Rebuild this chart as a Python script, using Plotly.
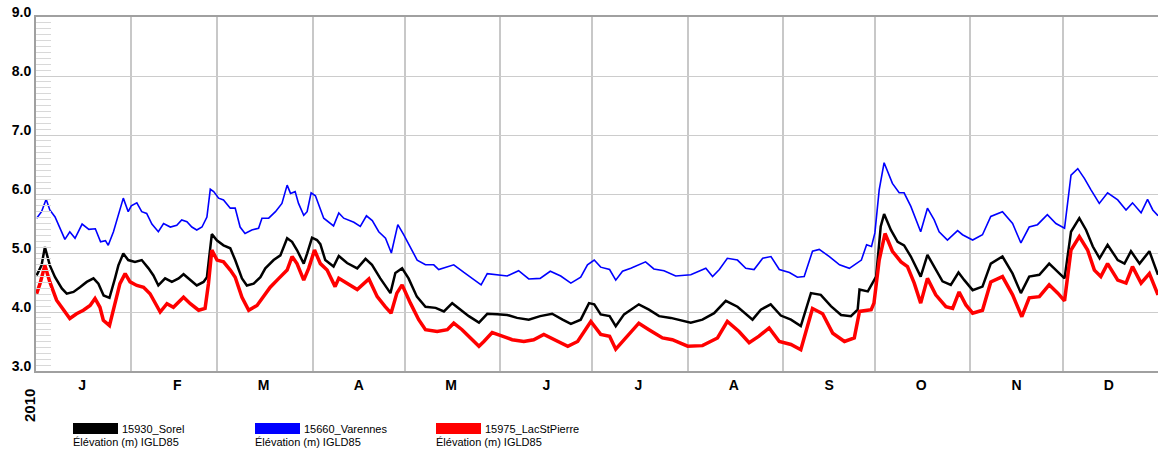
import plotly.graph_objects as go
import pandas as pd

# day offsets from 2010-01-01 and water levels (m, IGLD85)
sorel_days = [0.2, 1.8, 2.9, 4.5, 6.2, 8.4, 10, 12.2, 14.3, 16.5, 18.7, 20.3, 22, 23.9, 25.7, 26.8, 28.4, 30,
              32.2, 34.4, 36.6, 38.2, 39.8, 42, 44.2, 46.4, 48, 50.2, 52.3, 54.5, 55.6, 57.2, 58.9, 61, 63.2,
              64.8, 67, 68.6, 70.8, 73, 74.6, 77.3, 79.5, 81.7, 83.3, 84.9, 87.1, 88.2, 89.8, 91.4, 92.5,
              94.1, 96.8, 98.5, 101.2, 104.5, 107.2, 109.3, 112, 115.3, 116.9, 119.1, 121.2, 123.9, 126.7,
              130, 132.7, 135.4, 138.1, 140.8, 144.1, 146.8, 150, 153.3, 156.5, 160.3, 164, 167.9, 171.3,
              174, 177.2, 179.9, 181.6, 183.7, 186.6, 188.6, 191.3, 196.1, 199.4, 202.7, 206.5, 213, 216.8,
              220.6, 224.4, 228.2, 233.1, 235.8, 239, 242.3, 245.6, 248.8, 252.1, 255.3, 258.6, 261.9, 265.1,
              267.3, 267.9, 270.6, 273.3, 274.8, 275.9, 278.1, 280.3, 282.4, 284.6, 287.8, 290, 292.2, 294.9,
              297.6, 300.1, 302, 304.7, 307.9, 310.6, 314.4, 317.7, 320.4, 323.1, 326.4, 329.6, 332.4, 334.6,
              336.7, 339.4, 341.6, 343.8, 346, 348.6, 351.9, 354.1, 356.2, 359, 362.2, 365]
sorel = [4.62, 4.79, 5.10, 4.79, 4.59, 4.40, 4.31, 4.34, 4.42, 4.51, 4.57, 4.48, 4.28, 4.24, 4.57, 4.79, 4.99, 4.88,
         4.85, 4.88, 4.74, 4.62, 4.45, 4.57, 4.51, 4.57, 4.64, 4.54, 4.45, 4.51, 4.59, 5.32, 5.21, 5.13, 5.08,
         4.88, 4.57, 4.45, 4.48, 4.59, 4.74, 4.88, 4.96, 5.25, 5.19, 5.05, 4.82, 4.99, 5.26, 5.22, 5.15,
         4.88, 4.77, 4.95, 4.83, 4.74, 4.90, 4.80, 4.57, 4.32, 4.66, 4.74, 4.57, 4.26, 4.09,
         4.07, 4.01, 4.15, 4.04, 3.93, 3.82, 3.97, 3.96, 3.95, 3.90, 3.87, 3.93, 3.97, 3.87,
         3.80, 3.87, 4.15, 4.13, 3.96, 3.93, 3.76, 3.96, 4.13, 4.04, 3.93, 3.90, 3.82, 3.87,
         3.98, 4.19, 4.09, 3.87, 4.04, 4.13, 3.94, 3.87, 3.76, 4.32, 4.29, 4.10, 3.95, 3.93,
         4.04, 4.38, 4.35, 4.60, 5.45, 5.66, 5.39, 5.19, 5.13, 4.94, 4.60, 4.97, 4.77, 4.52,
         4.46, 4.67, 4.54, 4.37, 4.43, 4.82, 4.94, 4.65, 4.32, 4.60, 4.63, 4.82, 4.68, 4.57,
         5.36, 5.59, 5.39, 5.11, 4.91, 5.14, 4.88, 4.82, 5.03, 4.82, 5.03, 4.63]

varennes_days = [0.2, 1.8, 3.3, 4.5, 6.2, 7.8, 9.4, 11, 12.7, 15, 17.2, 19.3, 21, 22.6, 23.5, 25.2, 26.8, 28.4,
                 30, 31, 32.8, 34.4, 36, 37.7, 39.8, 41.5, 43.7, 45.8, 47.4, 49.1, 50.7, 52.3, 54, 55.6, 56.7,
                 57.8, 59.4, 61, 63.2, 64.8, 66.4, 68, 70.2, 72.4, 73.5, 75.7, 77.9, 80, 81.7, 82.8, 84.3,
                 85.4, 87.1, 88.2, 89.5, 90.9, 93.6, 96.8, 98.5, 100.1, 103.4, 105.5, 107.5, 109.4, 111.5,
                 113.7, 115.6, 117.7, 119.6, 121.3, 124, 126.7, 129.4, 131, 133.8, 135.9, 139.2, 141.9,
                 144.8, 146.8, 150, 153.3, 157, 160.3, 164, 167.3, 170.7, 174, 177.2, 179.4, 181.6, 183.7,
                 186.6, 188.6, 190.8, 193.5, 198.3, 201, 204.3, 208.1, 213, 217.9, 220.1, 222.3, 224.9,
                 228.2, 230.9, 233.6, 236.4, 239.1, 241.8, 245.1, 247.7, 249.9, 252.6, 254.8, 258.1, 261.4,
                 264.6, 267.4, 268.5, 270.2, 271.8, 272.9, 274.3, 275.9, 278.6, 280.8, 282.4, 284.6, 287.8,
                 290, 292.2, 293.8, 296.5, 299.8, 301.4, 304.7, 307.9, 310.6, 314.4, 317.7, 320.4, 323.1,
                 325.8, 329, 331.8, 334.6, 336.7, 338.9, 341.1, 343.2, 345.9, 348.6, 351.9, 354.6, 356.7,
                 359.5, 361.6, 363.3, 365]
varennes = [5.59, 5.70, 5.91, 5.73, 5.61, 5.42, 5.23, 5.36, 5.25, 5.49, 5.40, 5.41, 5.19, 5.21, 5.13, 5.36, 5.64,
            5.93, 5.70, 5.80, 5.85, 5.70, 5.67, 5.49, 5.36, 5.50, 5.44, 5.47, 5.56, 5.53, 5.44, 5.39, 5.44, 5.61,
            6.08, 6.04, 5.93, 5.90, 5.76, 5.76, 5.44, 5.33, 5.39, 5.42, 5.59, 5.59, 5.70, 5.84, 6.15, 6.01,
            6.04, 5.84, 5.64, 5.70, 6.02, 5.97, 5.59, 5.46, 5.68, 5.59, 5.52, 5.45, 5.63, 5.55, 5.36,
            5.25, 5.00, 5.48, 5.31, 5.14, 4.88, 4.80, 4.80, 4.72, 4.77, 4.80, 4.67, 4.57,
            4.46, 4.65, 4.63, 4.61, 4.70, 4.56, 4.57, 4.69, 4.61, 4.49, 4.59, 4.80, 4.88, 4.76,
            4.72, 4.54, 4.69, 4.74, 4.85, 4.73, 4.70, 4.61, 4.63, 4.74, 4.60, 4.72, 4.91,
            4.88, 4.74, 4.72, 4.91, 4.94, 4.72, 4.67, 4.59, 4.60, 5.03, 5.06, 4.94, 4.80,
            4.74, 4.85, 4.88, 5.14, 5.11, 5.34, 6.07, 6.53, 6.18, 6.02, 6.02, 5.79, 5.36,
            5.76, 5.56, 5.36, 5.22, 5.38, 5.31, 5.22, 5.31, 5.62, 5.70, 5.50, 5.17, 5.44,
            5.48, 5.65, 5.50, 5.42, 6.32, 6.43, 6.26, 6.07, 5.84, 6.02, 5.90, 5.73, 5.85,
            5.68, 5.91, 5.73, 5.63]

lacstpierre_days = [0.2, 1.3, 2.9, 4.5, 6.7, 8.9, 11, 13.2, 15.4, 17.6, 19.2, 20.8, 21.9, 23.9, 25.7, 27.3, 29,
                    30.6, 32.8, 35, 37.1, 38.8, 40.4, 42.6, 44.7, 48, 50.2, 52.9, 55, 56.1, 57.2, 58.9, 61,
                    63.2, 64.8, 67, 69.2, 71.9, 74, 76.2, 79, 81.7, 83.3, 84.9, 87.1, 88.7, 90.6, 92.5,
                    94.7, 97.3, 98.5, 101.2, 104.5, 108.3, 111, 113.6, 115.5, 117.4, 119.1, 121.8, 124.5,
                    126.7, 130.5, 133.8, 135.9, 138.6, 141.3, 144.1, 145.7, 148.4, 151.7, 154.9, 158.7,
                    161.9, 165.2, 168.6, 173, 176.2, 178.3, 180.5, 183.7, 186.6, 188.6, 191.3, 196.1,
                    199.4, 203.8, 207, 212, 216.8, 221.7, 224.9, 228.7, 232, 235.2, 238.5, 241.8, 245.6,
                    248.8, 252.6, 255.9, 259.2, 263, 266.2, 267.9, 271.7, 272.6, 274.3, 276.2, 278.6,
                    281.4, 283.5, 285.7, 287.8, 290, 292.7, 296, 298.2, 300.3, 302.5, 304.7, 307.9, 310.6,
                    314.4, 317.7, 320.7, 323.1, 326.4, 329.6, 332.4, 334.6, 336.7, 339.4, 342.1, 344.3,
                    346.4, 348.6, 351.9, 354.6, 356.7, 359.5, 362.2, 365]
lacstpierre = [4.31, 4.48, 4.79, 4.51, 4.20, 4.03, 3.89, 3.97, 4.03, 4.11, 4.23, 4.08, 3.86, 3.77, 4.14, 4.48, 4.65,
               4.51, 4.45, 4.42, 4.31, 4.14, 4.00, 4.14, 4.08, 4.25, 4.14, 4.03, 4.06, 4.48, 5.05, 4.88, 4.85,
               4.71, 4.59, 4.25, 4.03, 4.11, 4.25, 4.42, 4.57, 4.71, 4.94, 4.82, 4.54, 4.74, 5.05, 4.82,
               4.71, 4.43, 4.57, 4.49, 4.38, 4.56, 4.26, 4.09, 3.98, 4.32, 4.46, 4.15, 3.87,
               3.70, 3.67, 3.70, 3.81, 3.70, 3.56, 3.42, 3.50, 3.65, 3.59, 3.53, 3.50,
               3.53, 3.62, 3.53, 3.42, 3.50, 3.67, 3.84, 3.62, 3.59, 3.37, 3.53, 3.81,
               3.70, 3.56, 3.53, 3.42, 3.43, 3.56, 3.84, 3.67, 3.48, 3.59, 3.73, 3.50, 3.45,
               3.36, 4.06, 3.97, 3.64, 3.50, 3.56, 4.01, 4.04, 4.15, 4.88, 5.33, 5.03,
               4.85, 4.77, 4.49, 4.15, 4.57, 4.29, 4.09, 4.06, 4.34, 4.12, 3.98, 4.03, 4.51,
               4.60, 4.29, 3.92, 4.24, 4.26, 4.46, 4.32, 4.19, 5.05, 5.28, 5.05, 4.71,
               4.60, 4.82, 4.54, 4.49, 4.77, 4.49, 4.65, 4.29]

month_letters = ["J", "F", "M", "A", "M", "J", "J", "A", "S", "O", "N", "D"]

start = pd.Timestamp("2010-01-01")


def to_dates(days):
    return [start + pd.Timedelta(days=d) for d in days]


W, H = 1158, 453
ML, MT, MB, MR = 36, 17, 82, 0
PW, PH = W - ML - MR, H - MT - MB

fig = go.Figure()
series = [
    ("15930_Sorel", sorel_days, sorel, "#000000", 2.5),
    ("15660_Varennes", varennes_days, varennes, "#0000ff", 1.6),
    ("15975_LacStPierre", lacstpierre_days, lacstpierre, "#ff0000", 3.5),
]
for name, d, v, col, lw in series:
    fig.add_trace(go.Scatter(x=to_dates(d), y=v, mode="lines", name=name,
                             line=dict(color=col, width=lw), showlegend=False))

mid_months = [pd.Timestamp(2010, m, 16) for m in range(1, 13)]
bold14 = dict(family="Liberation Sans, Arial", size=14, color="black", weight="bold")

fig.update_xaxes(
    range=[start, pd.Timestamp("2011-01-01")],
    tickmode="array", tickvals=mid_months, ticktext=month_letters,
    ticks="", showgrid=False, tickfont=bold14, automargin=False,
    showline=True, linecolor="#a0a0a0", linewidth=2, mirror=True,
    minor=dict(tickmode="linear", tick0="2010-01-01", dtick="M1", showgrid=True,
               gridcolor="#c8c8c8", gridwidth=2, ticks=""),
    zeroline=False,
)
fig.update_yaxes(
    range=[3.0, 9.0], dtick=1, tickformat=".1f",
    showgrid=True, gridcolor="#cccccc", gridwidth=1,
    tickfont=bold14, automargin=False,
    showline=True, linecolor="#a0a0a0", linewidth=2,
    ticks="", ticklabelshift=-5,
    minor=dict(dtick=0.1, ticks="inside", ticklen=15, tickcolor="#d8d8d8", tickwidth=1),
    zeroline=False,
)


def px(x):
    return (x - ML) / PW


def py(y):
    return (H - MB - y) / PH


legend_font = dict(family="Liberation Sans Narrow, Arial Narrow, Liberation Sans", size=11, color="black")
shapes = []
annotations = []
for (name, d, v, col, lw), x0 in zip(series, [73, 255, 436]):
    shapes.append(dict(type="rect", xref="paper", yref="paper",
                       x0=px(x0), x1=px(x0 + 45), y0=py(434), y1=py(423),
                       fillcolor=col, line=dict(width=0)))
    annotations.append(dict(xref="paper", yref="paper", x=px(x0 + 47), y=py(428.5),
                            xanchor="left", yanchor="middle", text=name,
                            showarrow=False, font=legend_font))
    annotations.append(dict(xref="paper", yref="paper", x=px(x0 - 2), y=py(442),
                            xanchor="left", yanchor="middle", text="Élévation (m) IGLD85",
                            showarrow=False, font=legend_font))

annotations.append(dict(xref="paper", yref="paper", x=px(29), y=py(406), text="2010",
                        xanchor="center", yanchor="middle",
                        textangle=-90, showarrow=False,
                        font=dict(family="Liberation Sans, Arial", size=15, color="black", weight="bold")))

fig.update_layout(
    width=W, height=H,
    margin=dict(l=ML, r=MR, t=MT, b=MB),
    plot_bgcolor="white", paper_bgcolor="white",
    shapes=shapes, annotations=annotations,
    showlegend=False,
)

# page body has a default 8px margin; drop it so the figure sits at the window corner
fig.write_html("out.html", config={"displayModeBar": False},
               post_script="document.body.style.margin='0';")
